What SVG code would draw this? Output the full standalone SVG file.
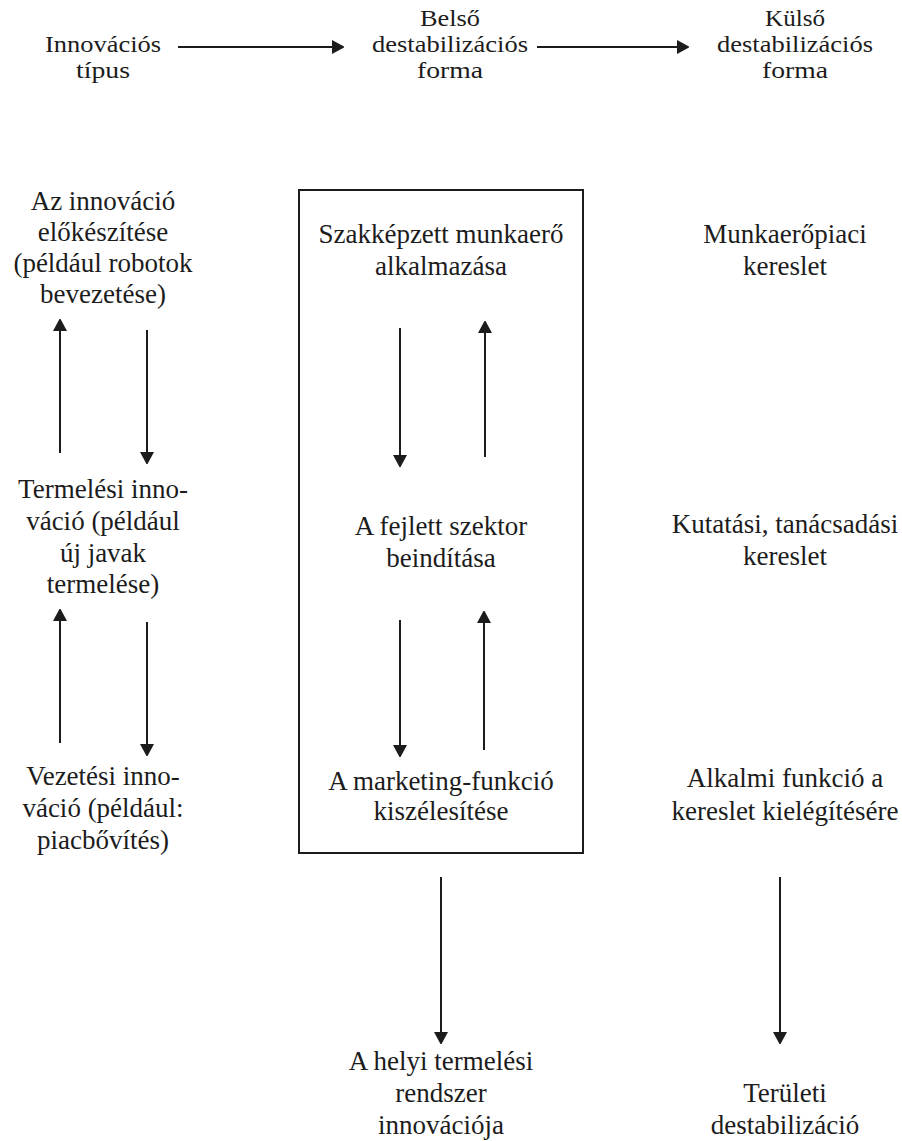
<svg xmlns="http://www.w3.org/2000/svg" width="902" height="1141" viewBox="0 0 902 1141">
<style>
text{font-family:'Liberation Serif','Times New Roman','DejaVu Serif','Noto Serif',serif;fill:#1c1c1c;text-anchor:middle}
.h{font-size:23px}
.b{font-size:27px}
.c{stroke:#1c1c1c;stroke-width:2;fill:none;marker-end:url(#ah)}
.box{fill:none;stroke:#1c1c1c;stroke-width:2}
</style>
<defs>
<marker id="ah" viewBox="0 0 12 14" refX="11" refY="7" markerWidth="12" markerHeight="14" markerUnits="userSpaceOnUse" orient="auto">
<path d="M0,0 L13,7 L0,14 z" fill="#1c1c1c"/>
</marker>
</defs>
<rect width="902" height="1141" fill="#fff"/>
<g id="hdr-innovacios"><text class="h" x="103" y="52" textLength="116" lengthAdjust="spacingAndGlyphs">Innovációs</text><text class="h" x="103" y="78" textLength="54" lengthAdjust="spacingAndGlyphs">típus</text></g>
<g id="hdr-belso"><text class="h" x="450" y="26" textLength="60" lengthAdjust="spacingAndGlyphs">Belső</text><text class="h" x="450" y="52" textLength="156" lengthAdjust="spacingAndGlyphs">destabilizációs</text><text class="h" x="450" y="78" textLength="66" lengthAdjust="spacingAndGlyphs">forma</text></g>
<g id="hdr-kulso"><text class="h" x="795" y="26" textLength="60" lengthAdjust="spacingAndGlyphs">Külső</text><text class="h" x="795" y="52" textLength="156" lengthAdjust="spacingAndGlyphs">destabilizációs</text><text class="h" x="795" y="78" textLength="66" lengthAdjust="spacingAndGlyphs">forma</text></g>
<g id="box"><rect class="box" x="299" y="190" width="284" height="663"/></g>
<g id="l1"><text class="b" x="103" y="210">Az innováció</text><text class="b" x="103" y="241">előkészítése</text><text class="b" x="103" y="272">(például robotok</text><text class="b" x="103" y="303">bevezetése)</text></g>
<g id="l2"><text class="b" x="103" y="498">Termelési inno-</text><text class="b" x="103" y="530">váció (például</text><text class="b" x="103" y="562">új javak</text><text class="b" x="103" y="593">termelése)</text></g>
<g id="l3"><text class="b" x="103" y="785">Vezetési inno-</text><text class="b" x="103" y="817">váció (például:</text><text class="b" x="103" y="849">piacbővítés)</text></g>
<g id="m1"><text class="b" x="441" y="243">Szakképzett munkaerő</text><text class="b" x="441" y="275">alkalmazása</text></g>
<g id="m2"><text class="b" x="441" y="535">A fejlett szektor</text><text class="b" x="441" y="567">beindítása</text></g>
<g id="m3"><text class="b" x="441" y="790">A marketing-funkció</text><text class="b" x="441" y="820">kiszélesítése</text></g>
<g id="r1"><text class="b" x="785" y="243">Munkaerőpiaci</text><text class="b" x="785" y="275">kereslet</text></g>
<g id="r2"><text class="b" x="785" y="533">Kutatási, tanácsadási</text><text class="b" x="785" y="565">kereslet</text></g>
<g id="r3"><text class="b" x="785" y="787">Alkalmi funkció a</text><text class="b" x="785" y="820">kereslet kielégítésére</text></g>
<g id="b1"><text class="b" x="441" y="1070">A helyi termelési</text><text class="b" x="441" y="1102">rendszer</text><text class="b" x="441" y="1134">innovációja</text></g>
<g id="b2"><text class="b" x="785" y="1102">Területi</text><text class="b" x="785" y="1134">destabilizáció</text></g>
<g id="connectors">
<line class="c" x1="178" y1="47" x2="343" y2="47"/>
<line class="c" x1="537" y1="47" x2="688" y2="47"/>
<line class="c" x1="60" y1="453" x2="60" y2="320"/>
<line class="c" x1="147" y1="330" x2="147" y2="463"/>
<line class="c" x1="60" y1="743" x2="60" y2="610"/>
<line class="c" x1="147" y1="622" x2="147" y2="755"/>
<line class="c" x1="400" y1="328" x2="400" y2="466"/>
<line class="c" x1="485" y1="457" x2="485" y2="322"/>
<line class="c" x1="400" y1="620" x2="400" y2="756"/>
<line class="c" x1="484" y1="750" x2="484" y2="612"/>
<line class="c" x1="441" y1="877" x2="441" y2="1043"/>
<line class="c" x1="780" y1="877" x2="780" y2="1043"/>
</g>
</svg>
